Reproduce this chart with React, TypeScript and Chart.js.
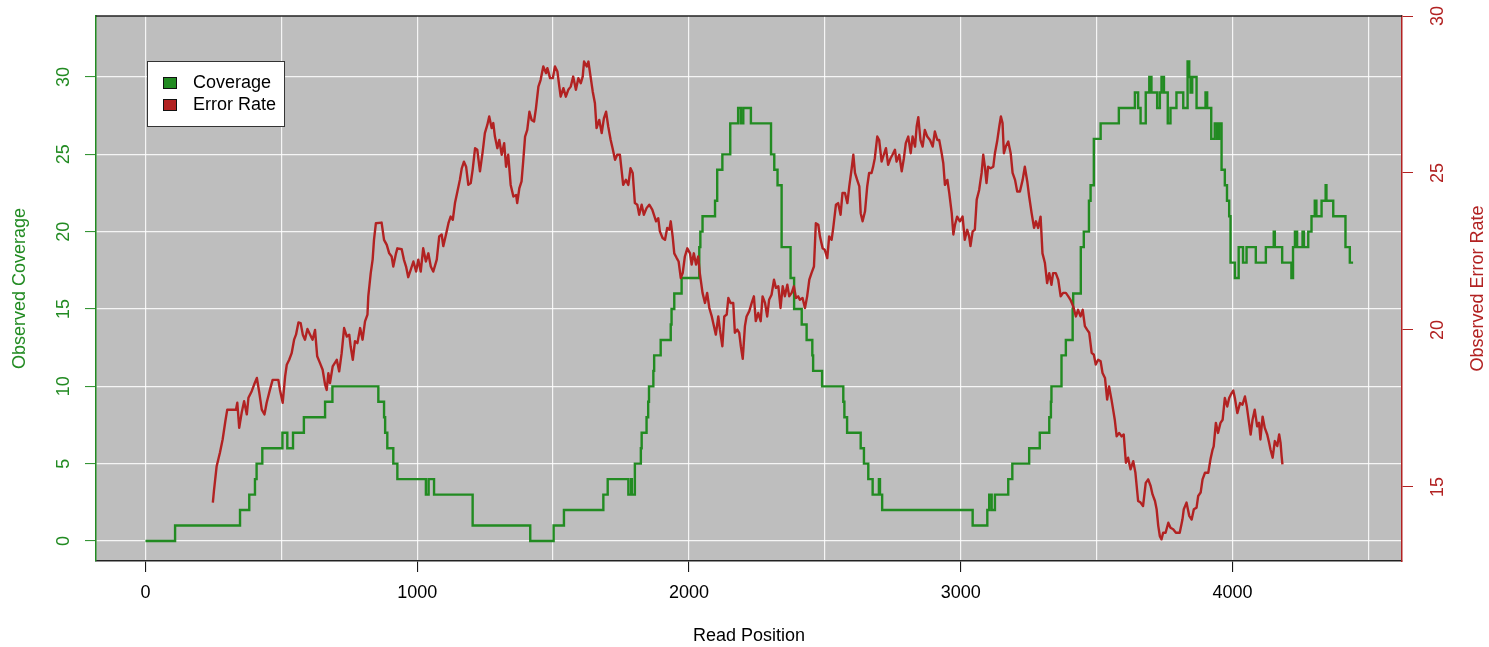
import React, { useEffect, useRef } from "react";
import { Chart, registerables } from "chart.js";

Chart.register(...registerables);

const FONT = '"Liberation Sans", Arial, Helvetica, sans-serif';
const GREEN = "#228B22";
const RED = "#B22222";

// Coverage: step positions (value holds from this position until the next one)
const coveragePositions = [
  0, 109, 348, 382, 403, 409, 430, 504, 522, 543, 583, 661, 688, 857, 878, 882, 890, 912, 927,
  1032, 1042, 1062, 1204, 1416, 1502, 1540, 1685, 1701, 1777, 1787, 1790, 1801, 1823, 1826, 1844,
  1850, 1853, 1869, 1872, 1896, 1933, 1936, 1946, 1973, 2038, 2042, 2050, 2096, 2104, 2123, 2152,
  2181, 2191, 2200, 2228, 2302, 2314, 2326, 2341, 2374, 2387, 2415, 2433, 2454, 2457, 2490, 2568,
  2572, 2582, 2632, 2644, 2660, 2676, 2699, 2703, 2711, 3044, 3098, 3105, 3114, 3126, 3175, 3190,
  3252, 3291, 3326, 3332, 3334, 3371, 3387, 3412, 3414, 3442, 3453, 3472, 3478, 3490, 3515, 3582,
  3641, 3653, 3662, 3681, 3694, 3702, 3723, 3733, 3739, 3748, 3762, 3772, 3794, 3819, 3835, 3841,
  3846, 3852, 3868, 3901, 3907, 3922, 3935, 3944, 3951, 3960, 3972, 3980, 3988, 3993, 4009, 4023,
  4039, 4052, 4086, 4123, 4152, 4156, 4183, 4217, 4223, 4230, 4238, 4258, 4263, 4279, 4291, 4303,
  4309, 4328, 4343, 4346, 4371, 4416, 4432, 4444,
];
const coverageValues = [
  0, 1, 2, 3, 4, 5, 6, 7, 6, 7, 8, 9, 10, 9, 8, 7, 6, 5, 4,
  3, 4, 3, 1, 0, 1, 2, 3, 4, 3, 4, 3, 5, 6, 7, 8,
  9, 10, 11, 12, 13, 14, 15, 16, 17, 19, 20, 21, 22, 24, 25, 27,
  28, 27, 28, 27, 25, 24, 23, 19, 17, 15, 14, 13, 12, 11, 10, 9,
  8, 7, 6, 5, 4, 3, 4, 3, 2, 1, 2, 3, 2, 3, 4, 5,
  6, 7, 8, 9, 10, 12, 13, 15, 16, 19, 20, 22, 23, 26, 27, 28,
  29, 28, 27, 29, 30, 29, 28, 29, 30, 29, 27, 28, 29, 28, 31, 30,
  29, 30, 28, 29, 28, 26, 27, 26, 27, 24, 23, 22, 21, 18, 17, 19,
  18, 19, 18, 19, 20, 19, 18, 17, 19, 20, 19, 20, 19, 20, 21, 22,
  21, 22, 23, 22, 21, 19, 18, 18,
];

// Error rate: sampled positions and values
const errorPositions = [
  248, 252, 262, 274, 284, 294, 301, 333, 338, 345, 354, 363, 373, 379, 391, 400, 410, 419, 428,
  438, 446, 458, 468, 489, 495, 505, 514, 520, 529, 538, 547, 554, 563, 571, 579, 587, 596, 606,
  615, 624, 632, 642, 652, 661, 667, 673, 679, 689, 704, 713, 722, 731, 741, 750, 755, 763, 771,
  780, 790, 799, 808, 817, 820, 829, 836, 841, 848, 869, 878, 888, 897, 906, 912, 922, 927, 943,
  951, 959, 967, 976, 986, 996, 1004, 1013, 1022, 1032, 1041, 1050, 1059, 1072, 1081, 1090, 1096,
  1106, 1115, 1123, 1131, 1139, 1148, 1157, 1164, 1172, 1180, 1188, 1197, 1204, 1213, 1221, 1231,
  1241, 1249, 1258, 1265, 1274, 1280, 1286, 1295, 1302, 1311, 1320, 1327, 1335, 1344, 1354, 1364,
  1368, 1376, 1384, 1390, 1397, 1405, 1413, 1421, 1430, 1437, 1446, 1454, 1464, 1474, 1479, 1489,
  1499, 1507, 1516, 1523, 1528, 1538, 1547, 1556, 1565, 1574, 1584, 1593, 1602, 1609, 1614, 1624,
  1630, 1638, 1646, 1654, 1660, 1670, 1679, 1687, 1695, 1703, 1712, 1719, 1728, 1736, 1746, 1752,
  1758, 1768, 1777, 1785, 1793, 1801, 1810, 1817, 1826, 1834, 1844, 1854, 1865, 1871, 1879, 1887,
  1893, 1903, 1912, 1920, 1928, 1933, 1940, 1946, 1955, 1962, 1970, 1977, 1985, 1994, 2004, 2010,
  2018, 2026, 2034, 2040, 2050, 2059, 2067, 2075, 2084, 2092, 2099, 2108, 2114, 2123, 2130, 2139,
  2145, 2153, 2163, 2169, 2178, 2185, 2191, 2198, 2206, 2212, 2222, 2231, 2239, 2246, 2255, 2264,
  2271, 2280, 2288, 2295, 2304, 2313, 2320, 2329, 2337, 2345, 2353, 2362, 2369, 2378, 2386, 2394,
  2402, 2408, 2418, 2427, 2435, 2443, 2451, 2460, 2467, 2476, 2482, 2492, 2500, 2509, 2516, 2525,
  2531, 2541, 2549, 2558, 2565, 2574, 2583, 2590, 2599, 2605, 2611, 2619, 2627, 2632, 2639, 2648,
  2656, 2663, 2672, 2678, 2684, 2693, 2700, 2709, 2717, 2725, 2733, 2742, 2749, 2758, 2764, 2774,
  2783, 2791, 2798, 2807, 2816, 2823, 2832, 2838, 2844, 2852, 2860, 2868, 2877, 2887, 2897, 2905,
  2914, 2921, 2930, 2936, 2942, 2951, 2958, 2967, 2973, 2979, 2987, 2997, 3007, 3015, 3024, 3031,
  3036, 3044, 3052, 3059, 3068, 3077, 3083, 3089, 3095, 3101, 3110, 3120, 3126, 3134, 3142, 3148,
  3154, 3159, 3166, 3175, 3184, 3191, 3200, 3208, 3218, 3228, 3236, 3245, 3252, 3261, 3270, 3277,
  3285, 3294, 3301, 3310, 3318, 3326, 3334, 3340, 3350, 3359, 3368, 3377, 3387, 3396, 3404, 3414,
  3424, 3432, 3441, 3449, 3457, 3465, 3473, 3482, 3490, 3497, 3506, 3515, 3522, 3531, 3539, 3546,
  3555, 3561, 3567, 3574, 3583, 3592, 3600, 3608, 3616, 3625, 3635, 3643, 3653, 3662, 3671, 3681,
  3690, 3699, 3706, 3715, 3721, 3727, 3733, 3739, 3745, 3754, 3764, 3772, 3782, 3792, 3800, 3806,
  3816, 3821, 3831, 3841, 3850, 3858, 3868, 3874, 3883, 3890, 3899, 3911, 3919, 3927, 3931, 3939,
  3947, 3956, 3964, 3972, 3981, 3988, 3997, 4003, 4009, 4018, 4028, 4037, 4046, 4053, 4058, 4067,
  4074, 4082, 4091, 4098, 4103, 4111, 4119, 4128, 4135, 4140, 4148, 4156, 4165, 4172, 4177, 4181,
  4184,
];
const errorValues = [
  14.5, 14.87, 15.66, 16.09, 16.51, 17.09, 17.46, 17.46, 17.68, 16.88, 17.36, 17.73, 17.31, 17.84, 18.05, 18.26, 18.47, 18.0, 17.46,
  17.31, 17.68, 18.09, 18.41, 18.41, 18.09, 17.68, 18.52, 18.89, 19.05, 19.26, 19.69, 19.85, 20.24, 20.22, 19.85, 19.69, 20.03, 19.85,
  19.69, 20.0, 19.16, 18.95, 18.73, 18.26, 18.09, 18.62, 18.31, 18.84, 19.05, 18.68, 19.26, 20.06, 19.79, 19.85, 19.48, 19.05, 19.64,
  19.58, 20.06, 19.69, 20.27, 20.49, 21.07, 21.81, 22.24, 22.87, 23.4, 23.42, 22.87, 22.71, 22.44, 22.34, 22.02, 22.44, 22.6, 22.57,
  22.24, 22.02, 21.68, 21.91, 22.18, 21.86, 22.24, 21.86, 22.6, 22.18, 22.44, 22.02, 21.86, 22.24, 22.98, 23.04, 22.67,
  23.04, 23.4, 23.61, 23.51, 24.04, 24.41, 24.78, 25.15, 25.36, 25.2, 24.62, 24.68, 25.1, 25.79, 25.74, 25.05,
  25.68, 26.27, 26.53, 26.8, 26.43, 26.59, 26.16, 25.79, 26.05, 25.58, 25.95, 25.2, 25.58, 24.62, 24.25, 24.3,
  24.04, 24.52, 24.73, 25.36, 26.16, 26.37, 26.95, 26.69, 26.64, 27.06, 27.75, 27.96, 28.39, 28.18, 28.34, 28.02,
  28.02, 28.39, 28.23, 27.75, 27.43, 27.7, 27.43, 27.65, 27.75, 28.07, 27.65, 28.02, 27.86, 28.07, 28.55, 28.39,
  28.55, 28.07, 27.59, 27.22, 26.43, 26.69, 26.27, 26.74, 26.95, 26.48, 26.05, 25.79, 25.42, 25.58, 25.58, 25.1,
  24.62, 24.78, 24.62, 25.15, 25.0, 24.04, 23.99, 23.67, 23.99, 23.67, 23.88, 23.99, 23.83, 23.67, 23.46, 23.56,
  23.14, 22.93, 22.87, 23.25, 23.19, 23.46, 22.98, 22.44, 22.29, 22.18, 21.65, 21.81, 22.34, 22.6, 22.44, 22.08,
  22.44, 22.08, 22.34, 21.81, 21.18, 20.86, 21.18, 20.7, 20.43, 20.12, 19.85, 20.43, 20.01, 19.48, 20.43, 20.49,
  21.02, 20.86, 20.86, 19.91, 20.01, 19.91, 19.48, 19.08, 20.12, 20.43, 20.6, 20.86, 21.07, 20.28, 20.54, 20.28,
  21.07, 20.86, 20.43, 20.96, 21.12, 21.6, 21.34, 21.39, 20.7, 21.39, 21.07, 21.44, 21.07, 21.18, 21.39, 21.02,
  21.07, 20.96, 21.02, 20.7, 21.07, 21.6, 21.81, 22.02, 23.4, 23.35, 22.98, 22.6, 22.55, 22.29, 22.98, 22.87,
  23.25, 23.99, 24.04, 23.67, 24.36, 24.36, 24.04, 24.57, 25.15, 25.58, 25.0, 24.78, 24.57, 23.72, 23.46, 23.78,
  24.57, 25.0, 25.0, 25.21, 25.47, 26.16, 26.05, 25.36, 25.58, 25.79, 25.26, 25.47, 25.58, 25.74, 25.36, 25.58,
  25.05, 25.47, 25.95, 26.16, 25.63, 26.16, 25.84, 26.48, 26.78, 26.05, 25.84, 26.37, 26.16, 26.05, 25.84, 26.32,
  26.05, 26.05, 25.63, 25.31, 24.62, 24.78, 24.36, 23.72, 23.04, 23.35, 23.61, 23.46, 23.61, 22.87, 23.19, 22.98,
  22.67, 23.14, 23.19, 24.15, 24.46, 25.0, 25.58, 25.2, 24.68, 25.2, 25.15, 25.2, 25.63, 26.0, 26.48, 26.8,
  26.59, 25.63, 25.84, 26.0, 25.63, 25.0, 24.78, 24.41, 24.41, 24.78, 25.2, 24.73, 24.25, 23.72, 23.25, 23.46,
  23.25, 23.61, 22.44, 22.13, 21.49, 21.81, 21.44, 21.81, 21.81, 21.6, 21.07, 21.18, 21.18, 21.07, 20.96, 20.75,
  20.43, 20.64, 20.43, 20.64, 20.12, 20.01, 19.91, 19.27, 19.21, 18.9, 19.05, 19.0, 18.63, 18.47, 17.78, 18.2,
  17.78, 17.46, 17.14, 16.61, 16.72, 16.61, 16.67, 15.77, 15.93, 15.56, 15.82, 15.45, 14.55, 14.5, 14.39, 15.13,
  15.24, 15.03, 14.76, 14.55, 14.29, 13.76, 13.43, 13.33, 13.54, 13.54, 13.86, 13.7, 13.65, 13.54, 13.54, 13.54,
  13.96, 14.29, 14.5, 14.08, 13.96, 14.29, 14.34, 14.71, 14.82, 15.24, 15.45, 15.45, 15.87, 16.19, 16.29, 17.04,
  16.72, 17.04, 17.14, 17.83, 17.56, 17.83, 17.99, 18.07, 17.83, 17.35, 17.67, 17.62, 17.88, 17.56, 17.24, 16.67,
  17.14, 17.46, 16.93, 17.04, 16.51, 17.24, 16.88, 16.67, 16.41, 16.19, 15.93, 16.46, 16.3, 16.67, 16.41, 15.98,
  15.72,
];

const X_MIN = -182;
const X_MAX = 4624;
const COV_MIN = -1.293;
const COV_MAX = 33.944;
const ERR_MIN = 12.64;
const ERR_MAX = 30;

// grid positions and labelled ticks
const xGridValues = [0, 500, 1000, 1500, 2000, 2500, 3000, 3500, 4000, 4500];
const xLabelValues = [0, 1000, 2000, 3000, 4000];
const yTickValues = [0, 5, 10, 15, 20, 25, 30];
const y1TickValues = [15, 20, 25, 30];

const SERIES_LABELS = ["Coverage", "Error Rate"];
const X_TITLE = "Read Position";
const Y_TITLE = "Observed Coverage";
const Y1_TITLE = "Observed Error Rate";

const bgPlugin = {
  id: "plotBg",
  beforeDraw(chart: any) {
    const { ctx, chartArea: a } = chart;
    ctx.save();
    ctx.fillStyle = "#BEBEBE";
    ctx.fillRect(a.left, a.top, a.right - a.left, a.bottom - a.top);
    ctx.restore();
  },
  afterDraw(chart: any) {
    const { ctx, chartArea: a } = chart;
    ctx.save();
    ctx.strokeStyle = "#222";
    ctx.lineWidth = 1.5;
    ctx.beginPath();
    ctx.moveTo(a.left, a.top);
    ctx.lineTo(a.right, a.top);
    ctx.stroke();
    ctx.fillStyle = RED;
    ctx.font = `18px ${FONT}`;
    ctx.textAlign = "center";
    ctx.textBaseline = "middle";
    ctx.translate(chart.width - 11, (a.top + a.bottom) / 2);
    ctx.rotate(-Math.PI / 2);
    ctx.fillText(Y1_TITLE, 0, 0);
    ctx.restore();
  },
};

const legendPlugin = {
  id: "boxLegend",
  afterDatasetsDraw(chart: any) {
    const { ctx, chartArea: a } = chart;
    const x0 = a.left + 51;
    const y0 = a.top + 45;
    ctx.save();
    ctx.font = `18px ${FONT}`;
    const sets = chart.data.datasets;
    const textW = Math.max(...SERIES_LABELS.map((l) => ctx.measureText(l).width));
    const w = 46 + textW + 8;
    const h = 65;
    ctx.fillStyle = "#fff";
    ctx.fillRect(x0, y0, w, h);
    ctx.strokeStyle = "#333";
    ctx.lineWidth = 1;
    ctx.strokeRect(x0 + 0.5, y0 + 0.5, w, h);
    SERIES_LABELS.forEach((lab, row) => {
      const ds = sets.find((d: any) => d.label === lab);
      const cy = y0 + 22 + row * 22;
      ctx.fillStyle = ds ? ds.borderColor : "#000";
      ctx.fillRect(x0 + 16, cy - 6, 14, 12);
      ctx.strokeStyle = "#111";
      ctx.strokeRect(x0 + 16.5, cy - 5.5, 13, 11);
      ctx.fillStyle = "#000";
      ctx.textAlign = "left";
      ctx.textBaseline = "middle";
      ctx.fillText(lab, x0 + 46, cy);
    });
    ctx.restore();
  },
};

export default function App() {
  const ref = useRef<HTMLCanvasElement | null>(null);

  useEffect(() => {
    if (!ref.current) return;
    const coverageData = coveragePositions.map((p, i) => ({ x: p, y: coverageValues[i] }));
    const errorData = errorPositions.map((p, i) => ({ x: p, y: errorValues[i] }));
    const tickFont = { family: FONT, size: 18 };

    const chart = new Chart(ref.current, {
      type: "line",
      data: {
        datasets: [
          {
            label: SERIES_LABELS[1],
            data: errorData,
            yAxisID: "y1",
            borderColor: RED,
            backgroundColor: RED,
            borderWidth: 2.4,
            pointRadius: 0,
            tension: 0,
            borderJoinStyle: "round",
            order: 0,
          },
          {
            label: SERIES_LABELS[0],
            data: coverageData,
            yAxisID: "y",
            borderColor: GREEN,
            backgroundColor: GREEN,
            borderWidth: 2.4,
            pointRadius: 0,
            stepped: "before",
            order: 1,
          },
        ],
      },
      options: {
        animation: false,
        responsive: false,
        maintainAspectRatio: false,
        parsing: false as any,
        layout: { padding: { top: 16, left: 0, right: 0, bottom: 0 } },
        plugins: {
          legend: { display: false },
          tooltip: { enabled: false },
        },
        scales: {
          x: {
            type: "linear",
            position: "bottom",
            min: X_MIN,
            max: X_MAX,
            afterBuildTicks: (s: any) => {
              s.ticks = xGridValues.map((v) => ({ value: v }));
            },
            ticks: {
              autoSkip: false,
              minRotation: 0,
              maxRotation: 0,
              color: "#000",
              font: tickFont,
              padding: 10,
              callback: (v: any) => (xLabelValues.includes(Number(v)) ? String(v) : ""),
            },
            grid: {
              color: "rgba(255,255,255,0.85)",
              lineWidth: 1.2,
              tickLength: 11,
              tickWidth: 1,
              tickColor: (c: any) =>
                c.tick && xLabelValues.includes(c.tick.value) ? "#000" : "rgba(0,0,0,0)",
            },
            border: { color: "#222", width: 1.5 },
            title: {
              display: true,
              text: X_TITLE,
              color: "#000",
              font: tickFont,
              padding: { top: 0, bottom: 0 },
            },
            afterFit: (s: any) => {
              s.height = 86;
              s.paddingLeft = 0;
              s.paddingRight = 0;
            },
          } as any,
          y: {
            type: "linear",
            position: "left",
            min: COV_MIN,
            max: COV_MAX,
            afterBuildTicks: (s: any) => {
              s.ticks = yTickValues.map((v) => ({ value: v }));
            },
            ticks: {
              color: GREEN,
              font: tickFont,
              padding: 11,
              minRotation: 90,
              maxRotation: 90,
              crossAlign: "center",
            },
            grid: {
              color: "rgba(255,255,255,0.85)",
              lineWidth: 1.2,
              tickLength: 11,
              tickWidth: 1,
              tickColor: GREEN,
            },
            border: { color: GREEN, width: 1.5 },
            title: {
              display: true,
              text: Y_TITLE,
              color: GREEN,
              font: tickFont,
              padding: { top: 9, bottom: 0 },
            },
            afterFit: (s: any) => {
              s.width = 96;
              s.paddingTop = 0;
              s.paddingBottom = 0;
            },
          } as any,
          y1: {
            type: "linear",
            position: "right",
            min: ERR_MIN,
            max: ERR_MAX,
            afterBuildTicks: (s: any) => {
              s.ticks = y1TickValues.map((v) => ({ value: v }));
            },
            ticks: {
              color: RED,
              font: tickFont,
              padding: 15,
              minRotation: 90,
              maxRotation: 90,
              crossAlign: "center",
            },
            grid: {
              drawOnChartArea: false,
              tickLength: 11,
              tickWidth: 1,
              tickColor: RED,
            },
            border: { color: RED, width: 1.5 },
            title: { display: false },
            afterFit: (s: any) => {
              s.width = 87;
              s.paddingTop = 0;
              s.paddingBottom = 0;
            },
          } as any,
        },
      },
      plugins: [bgPlugin, legendPlugin],
    });
    return () => chart.destroy();
  }, []);

  return (
    <div style={{ position: "absolute", left: 0, top: 0, width: 1489, height: 647, background: "#fff" }}>
      <canvas ref={ref} width={1489} height={647} style={{ width: 1489, height: 647, display: "block" }} />
    </div>
  );
}
